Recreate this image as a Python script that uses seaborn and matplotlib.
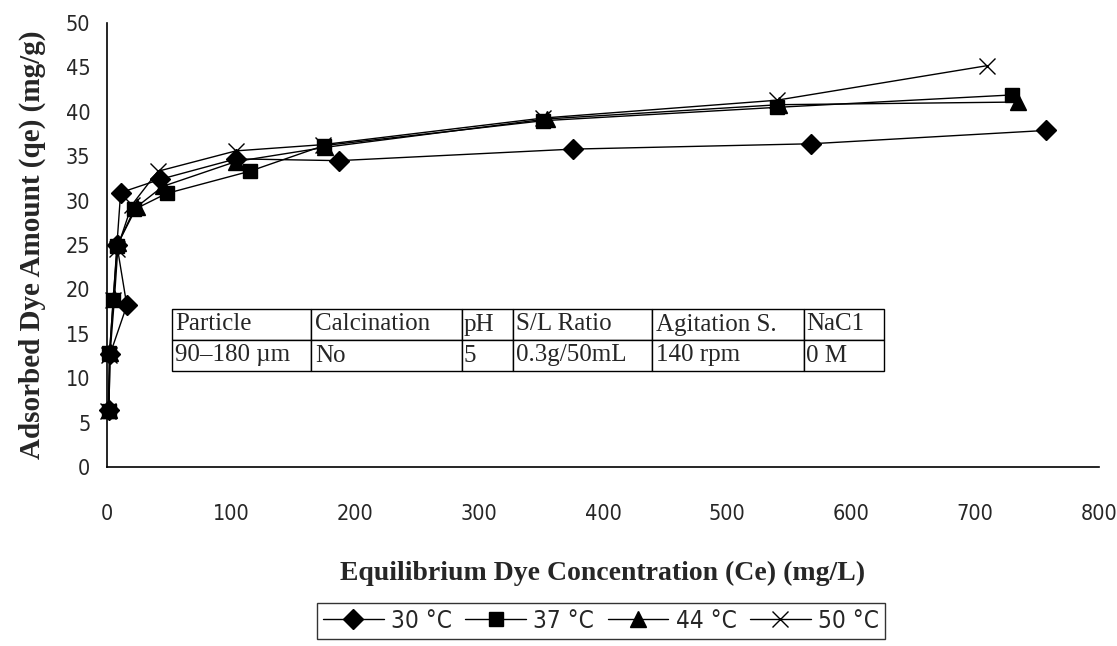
import matplotlib
matplotlib.use("Agg")
import matplotlib.pyplot as plt
import seaborn as sns
import pandas as pd
from matplotlib.lines import Line2D
from matplotlib import font_manager as fm

# ---- data ----
ce_30 = [1.5, 2.5, 16, 8, 11, 43, 104, 187, 376, 568, 757]
qe_30 = [6.4, 12.7, 18.2, 25.0, 30.9, 32.4, 34.7, 34.5, 35.8, 36.4, 37.9]
ce_37 = [1.5, 2.0, 5, 8, 22, 48, 115, 175, 352, 540, 730]
qe_37 = [6.3, 12.8, 18.8, 24.9, 29.0, 30.8, 33.3, 36.2, 39.0, 40.5, 41.9]
ce_44 = [1.5, 2.5, 6, 9, 24, 45, 104, 176, 355, 542, 735]
qe_44 = [6.4, 12.8, 19.0, 25.2, 29.3, 31.6, 34.4, 36.0, 39.2, 40.8, 41.1]
ce_50 = [1.0, 2.0, 5, 8, 20, 41, 104, 174, 352, 540, 710]
qe_50 = [6.3, 12.6, 18.8, 24.5, 29.5, 33.3, 35.6, 36.3, 39.3, 41.3, 45.2]
series_labels = ["30 \u00b0C", "37 \u00b0C", "44 \u00b0C", "50 \u00b0C"]

table_header = ["Particle", "Calcination", "pH", "S/L Ratio", "Agitation S.", "NaC1"]
table_row = ["90\u2013180 \u00b5m", "No", "5", "0.3g/50mL", "140 rpm", "0 M"]

x_ticks = [0, 100, 200, 300, 400, 500, 600, 700, 800]
y_ticks = [0, 5, 10, 15, 20, 25, 30, 35, 40, 45, 50]

sns.set_theme(style="white")
plt.rcParams['font.family'] = ['Liberation Serif', 'DejaVu Serif']

tick_font = fm.FontProperties(family='DejaVu Sans', stretch='condensed', size=15.5)

fig = plt.figure(figsize=(11.17, 6.46), dpi=100)
ax = fig.add_axes([107/1117, 1-467/646, 992/1117, 444/646])

markers = ['D', 's', '^', 'x']
msizes = [10, 10, 11, 11]
data = [(ce_30, qe_30), (ce_37, qe_37), (ce_44, qe_44), (ce_50, qe_50)]
handles = []
for (xs, ys), lab, m, ms in zip(data, series_labels, markers, msizes):
    df = pd.DataFrame({"Ce": xs, "qe": ys})
    sns.lineplot(data=df, x="Ce", y="qe", sort=False, ax=ax, color='black',
                 linewidth=1.0, marker=m, markersize=ms,
                 markerfacecolor='black', markeredgecolor='black',
                 markeredgewidth=1.0, legend=False, clip_on=False, zorder=3)
    handles.append(Line2D([0], [0], color='black', lw=1.0, marker=m, markersize=ms,
                          markerfacecolor='black', markeredgecolor='black',
                          label=lab))

ax.set_xlim(0, 800)
ax.set_ylim(0, 50)
ax.set_xticks(x_ticks)
ax.set_yticks(y_ticks)
ax.set_xticklabels([str(t) for t in x_ticks], fontproperties=tick_font)
ax.set_yticklabels([str(t) for t in y_ticks], fontproperties=tick_font)
ax.tick_params(axis='x', direction='out', length=8, width=1, color='black', pad=19)
ax.tick_params(axis='y', direction='out', length=6, width=1, color='black', pad=6)
for s in ['top', 'right']:
    ax.spines[s].set_visible(False)
for s in ['left', 'bottom']:
    ax.spines[s].set_color('black')
    ax.spines[s].set_linewidth(1.2)

ax.set_xlabel("Equilibrium Dye Concentration (Ce) (mg/L)", fontsize=20,
              fontweight='bold', labelpad=26)
ax.set_ylabel("Adsorbed Dye Amount (qe) (mg/g)", fontsize=21,
              fontweight='bold', labelpad=14)

# table inset
col_px = [139, 151, 51, 139, 152, 80]
tot = sum(col_px)
t_left = (172 - 107) / 992
t_width = tot / 992
t_bottom = (467 - 371) / 444
t_height = (371 - 309) / 444
tbl = ax.table(cellText=[table_header, table_row],
               colWidths=[c / tot * t_width for c in col_px],
               cellLoc='left',
               bbox=[t_left, t_bottom, t_width, t_height])
tbl.auto_set_font_size(False)
for (r, c), cell in tbl.get_celld().items():
    cell.set_facecolor('white')
    cell.set_edgecolor('black')
    cell.set_linewidth(1.0)
    cell.get_text().set_fontsize(18)
    cell.get_text().set_family('Liberation Serif')
    cell.PAD = 0.025
tbl.set_zorder(5)

leg = fig.legend(handles=handles, loc='center', bbox_to_anchor=(601/1117, 1-621/646),
                 ncol=4, frameon=True, fancybox=False, edgecolor='black',
                 prop=fm.FontProperties(family='DejaVu Sans', stretch='condensed', size=17.5),
                 handlelength=2.5, handletextpad=0.3, columnspacing=0.55,
                 borderpad=0.25)
leg.get_frame().set_linewidth(1.0)

fig.savefig("out.png", dpi=100, facecolor='white')
